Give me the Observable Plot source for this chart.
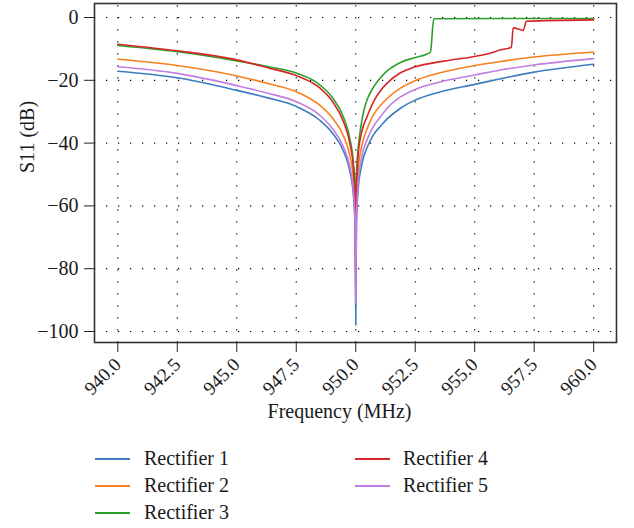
<!DOCTYPE html>
<html>
<head>
<meta charset="utf-8">
<script src="https://cdn.jsdelivr.net/npm/d3@7"></script>
<script src="https://cdn.jsdelivr.net/npm/@observablehq/plot@0.6"></script>
<style>
  html, body { margin: 0; padding: 0; background: white; }
  #wrap { position: relative; width: 634px; height: 528px; font-family: "Liberation Serif", serif; color: #1a1a1a; }
  #wrap svg text { font-family: "Liberation Serif", serif; }
  .lg-line { position: absolute; height: 2px; width: 35px; }
  .lg-text { position: absolute; font-size: 20px; line-height: 20px; white-space: nowrap; }
</style>
</head>
<body>
<div id="wrap"></div>
<script>
const names = ["Rectifier 1", "Rectifier 2", "Rectifier 3", "Rectifier 4", "Rectifier 5"];
const colors = ["#3b7dbf", "#f7811e", "#2ca02c", "#d62728", "#c17ee0"];

const xTicks = [940, 942.5, 945, 947.5, 950, 952.5, 955, 957.5, 960];
const yTicks = [-100, -80, -60, -40, -20, 0];

// Rectifier 1 (blue)
const f1 = [940, 942.5, 945, 946.3, 947.5, 948.5, 949, 949.5, 949.75, 949.9, 949.97, 950, 950.03, 950.1, 950.25, 950.5, 950.75, 951.04, 951.32, 951.88, 952.47, 953.5, 955, 956.09, 957.5, 960];
const s1 = [-17.1, -19.2, -23.2, -25.6, -28.3, -32.8, -36.6, -42.8, -48.8, -56.5, -66, -98, -65, -55, -47, -41, -37.3, -34.6, -32.3, -28.9, -26.4, -23.8, -21.3, -19.5, -17.4, -14.9];
// Rectifier 2 (orange)
const f2 = [940, 942.5, 945, 946.3, 947.5, 948.5, 949, 949.5, 949.75, 949.9, 949.97, 950, 950.03, 950.1, 950.25, 950.5, 950.76, 951.04, 951.32, 951.88, 952.47, 953.5, 955, 956.09, 957.5, 960];
const s2 = [-13.3, -15.3, -18.6, -21.0, -23.6, -28.0, -31.8, -38.0, -44.0, -51.5, -61, -72, -60, -49, -41, -35, -30.8, -28.0, -25.8, -22.5, -20.2, -17.7, -15.3, -14.0, -12.6, -11.0];
// Rectifier 3 (green)
const f3 = [940, 942.5, 945, 946.3, 947.5, 948.5, 949, 949.5, 949.75, 949.9, 949.97, 950, 950.03, 950.1, 950.2, 950.34, 950.5, 950.76, 951.04, 951.32, 951.88, 952.47, 953.0, 953.14, 953.28, 960];
const s3 = [-8.9, -10.9, -13.8, -15.6, -17.7, -21.5, -25.3, -32, -38.5, -46, -54, -62, -50, -42, -35.5, -29.6, -25.8, -22.0, -19.2, -17.0, -14.3, -12.8, -11.6, -11.0, -0.4, -0.3];
// Rectifier 4 (red)
const f4 = [940, 942.5, 945, 946.3, 947.5, 948.5, 949, 949.5, 949.75, 949.9, 949.97, 950, 950.03, 950.1, 950.25, 950.48, 950.76, 951.04, 951.32, 951.88, 952.47, 953.7, 955, 955.67, 956.09, 956.54, 956.62, 957.04, 957.17, 960];
const s4 = [-8.5, -10.6, -13.5, -16.0, -18.5, -22.5, -26.5, -33.5, -40, -48, -58, -85, -56, -44, -36.5, -31.5, -26.6, -23.3, -20.9, -17.6, -15.8, -13.9, -12.4, -11.3, -10.3, -9.5, -3.3, -4.1, -1.2, -0.75];
// Rectifier 5 (purple)
const f5 = [940, 942.5, 945, 946.3, 947.5, 948.5, 949, 949.5, 949.75, 949.9, 949.97, 950, 950.03, 950.1, 950.25, 950.5, 950.75, 951.04, 951.32, 951.88, 952.47, 953.5, 955, 956.09, 957.5, 960];
const s5 = [-15.7, -17.8, -21.7, -24.1, -26.8, -31.2, -35.2, -41.5, -47.5, -55.0, -65, -91, -64, -53, -44.5, -38.5, -34.6, -31.6, -28.9, -25.3, -23.0, -20.6, -18.3, -16.7, -15.1, -13.1];

const freqs = [f1, f2, f3, f4, f5];
const vals = [s1, s2, s3, s4, s5];

const rows = [];
names.forEach((n, i) => {
  freqs[i].forEach((f, j) => rows.push({name: n, f, s: vals[i][j]}));
});

const minus = d => d < 0 ? "\u2212" + Math.abs(d) : String(d);
const FF = "'Liberation Serif', serif";

const W = 634, H = 440;
const chart = Plot.plot({
  width: W,
  height: H,
  marginLeft: 94,
  marginRight: 18,
  marginTop: 3,
  marginBottom: 98,
  style: {fontFamily: FF, fontSize: "20px", background: "white", color: "#1a1a1a", overflow: "visible"},
  x: {domain: [939.02, 960.96]},
  y: {domain: [-103.5, 4.46]},
  color: {domain: names, range: colors},
  marks: [
    Plot.ruleY(yTicks, {stroke: "black", strokeWidth: 1.2, strokeDasharray: "1.2,10.8"}),
    Plot.ruleX(xTicks, {stroke: "black", strokeWidth: 1.2, strokeDasharray: "1.2,10.8", strokeDashoffset: 9.7}),
    Plot.line(rows, {x: "f", y: "s", z: "name", stroke: "name", strokeWidth: 1.6, curve: "monotone-x"}),
    Plot.frame({stroke: "#333", strokeWidth: 1.6}),
    Plot.axisY(yTicks, {tickSize: 10, tickPadding: 6, tickFormat: minus, label: null, stroke: "#222", fontSize: 20, fontFamily: FF}),
    Plot.axisX(xTicks, {tickSize: 10, tickPadding: 9, tickRotate: -45, tickFormat: d3.format(".1f"), label: null, stroke: "#222", fontSize: 19, fontFamily: FF}),
    Plot.text(["Frequency (MHz)"], {frameAnchor: "bottom", dy: 75, dx: -16, fontSize: 20, fontFamily: FF}),
    Plot.text(["S11 (dB)"], {frameAnchor: "left", dx: -67, rotate: -90, fontSize: 20, fontFamily: FF})
  ]
});

const wrap = document.getElementById("wrap");
wrap.appendChild(chart);

// legend
const legendRows = [
  {i: 0, lx: 95, tx: 144, y: 459},
  {i: 1, lx: 95, tx: 144, y: 485.5},
  {i: 2, lx: 95, tx: 144, y: 512.5},
  {i: 3, lx: 355, tx: 403, y: 459},
  {i: 4, lx: 355, tx: 403, y: 485.5}
];
legendRows.forEach(r => {
  const l = document.createElement("div");
  l.className = "lg-line";
  l.style.left = r.lx + "px";
  l.style.top = (r.y - 1) + "px";
  l.style.background = colors[r.i];
  wrap.appendChild(l);
  const t = document.createElement("div");
  t.className = "lg-text";
  t.style.left = r.tx + "px";
  t.style.top = (r.y - 11) + "px";
  t.textContent = names[r.i];
  wrap.appendChild(t);
});
</script>
</body>
</html>
